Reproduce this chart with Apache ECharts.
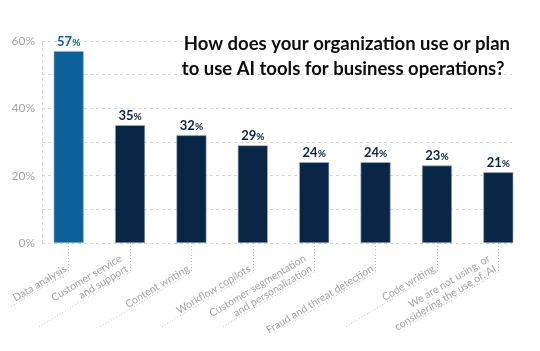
<!DOCTYPE html>
<html>
<head>
<meta charset="utf-8">
<script src="https://cdn.jsdelivr.net/npm/echarts@6/dist/echarts.min.js"></script>
<style>
  html, body { margin: 0; padding: 0; background: #fff; }
  #chart { width: 540px; height: 351px; }
</style>
</head>
<body>
<div id="chart"></div>
<script>
// Survey: how organizations use AI tools for business operations
const categories = [
  'Data analysis',
  'Customer service\nand support',
  'Content writing',
  'Workflow copilots',
  'Customer segmentation\nand personalization',
  'Fraud and threat detection',
  'Code writing',
  'We are not using, or\nconsidering the use of, AI'
];
const shares = [57, 35, 32, 29, 24, 24, 23, 21];
const yTicks = [0, 20, 40, 60];
const titleLines = [
  'How does your organization use or plan',
  'to use AI tools for business operations?'
];

const THEME = {
  highlight: '#0b6298',
  bar: '#0a2647',
  grid: '#d6d6d6',
  axisText: '#a3a3a3',
  leader: '#bdbdbd',
  title: '#0d0d0d'
};

const FONT = 'Lato';
const LABEL_ANGLE = 31;   // degrees, category label rotation
const TICK_LEN = 29;      // vertical dotted leader below each bar

const chart = echarts.init(document.getElementById('chart'));

const barData = shares.map((v, i) => {
  const color = i === 0 ? THEME.highlight : THEME.bar;
  return {
    value: v,
    itemStyle: { color },
    label: { color }
  };
});

const gridBox = { top: 41, bottom: 108 };

const option = {
  animation: false,
  backgroundColor: '#fff',
  grid: [
    // gridlines frame
    { left: 42, right: 28, top: gridBox.top, bottom: gridBox.bottom },
    // bars
    { left: 38, right: 11, top: gridBox.top, bottom: gridBox.bottom }
  ],
  xAxis: [
    { gridIndex: 0, type: 'value', show: false, min: 0, max: 1 },
    {
      gridIndex: 1,
      type: 'category',
      data: categories,
      axisLine: { show: false },
      axisTick: {
        show: true,
        alignWithLabel: true,
        length: TICK_LEN,
        lineStyle: { color: THEME.leader, type: [1, 2], width: 1 }
      },
      axisLabel: {
        interval: 0,
        rotate: LABEL_ANGLE,
        margin: TICK_LEN + 1,
        align: 'right',
        verticalAlign: 'bottom',
        color: THEME.axisText,
        fontFamily: FONT,
        fontSize: 10.5,
        lineHeight: 12
      }
    }
  ],
  yAxis: [
    {
      gridIndex: 0,
      type: 'value',
      min: 0,
      max: 60,
      interval: 10,
      axisLine: { show: true, lineStyle: { color: THEME.grid, type: [3, 3] } },
      axisTick: { show: false },
      splitLine: { show: true, lineStyle: { color: THEME.grid, type: [3, 3] } },
      axisLabel: {
        margin: 7,
        color: THEME.axisText,
        fontFamily: FONT,
        fontSize: 12,
        formatter: v => (yTicks.includes(v) ? v + '%' : '')
      }
    },
    {
      gridIndex: 1,
      type: 'value',
      min: 0,
      max: 60,
      interval: 10,
      show: false
    }
  ],
  series: [
    {
      type: 'bar',
      xAxisIndex: 1,
      yAxisIndex: 1,
      data: barData,
      barWidth: 30,
      itemStyle: { borderColor: '#9fb4ca', borderWidth: 0.6 },
      label: {
        show: true,
        position: 'top',
        distance: 3,
        formatter: '{n|{c}}{p|%}',
        rich: {
          n: { fontFamily: FONT, fontSize: 13, fontWeight: 'bold' },
          p: { fontFamily: FONT, fontSize: 10, fontWeight: 'bold', padding: [2, 0, 0, 0] }
        }
      }
    }
  ]
};

chart.setOption(option);

// Title block plus diagonal dotted leaders under the rotated category labels
function drawOverlays() {
  const baseY = chart.convertToPixel({ yAxisIndex: 1 }, 0) + TICK_LEN;
  const rad = LABEL_ANGLE * Math.PI / 180;
  const leaders = categories.map((c, i) => {
    const x = chart.convertToPixel({ xAxisIndex: 1 }, i);
    const drop = i === 0 ? 35 : 55;
    return {
      type: 'line',
      silent: true,
      shape: { x1: x, y1: baseY, x2: x - drop / Math.tan(rad), y2: baseY + drop },
      style: { stroke: THEME.leader, lineWidth: 1, lineDash: [1, 2] }
    };
  });
  const titleStyle = { fontFamily: FONT, fontSize: 18.5, fontWeight: 'bold', color: THEME.title };
  const title = {
    type: 'text',
    right: 28,
    top: 35,
    z: 100,
    style: {
      text: '{a|' + titleLines[0] + '}\n{b|' + titleLines[1] + '}',
      align: 'right',
      fill: THEME.title,
      font: 'bold 18.5px ' + FONT,
      rich: {
        a: Object.assign({ backgroundColor: '#fff', lineHeight: 25, padding: [0, 2] }, titleStyle),
        b: Object.assign({ lineHeight: 25 }, titleStyle)
      }
    }
  };
  chart.setOption({ graphic: [title].concat(leaders) });
}
drawOverlays();
</script>
</body>
</html>
